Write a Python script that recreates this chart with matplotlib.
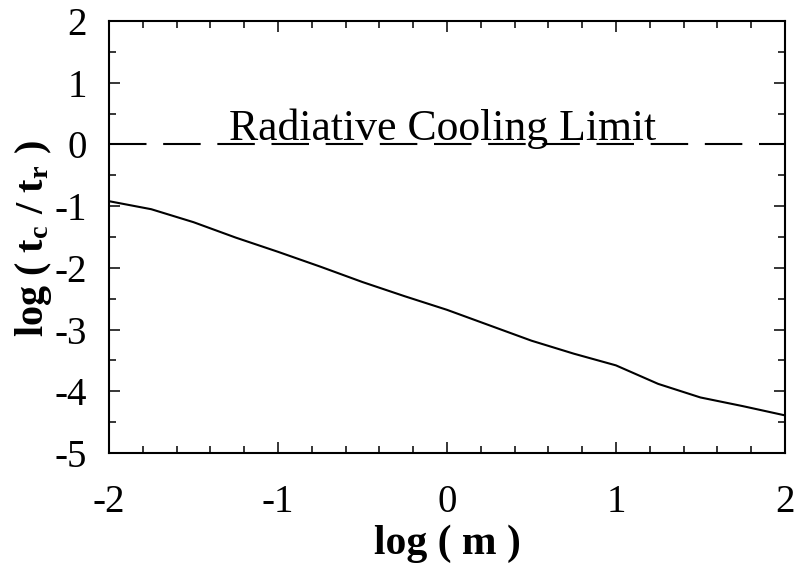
import matplotlib
matplotlib.use("Agg")
import matplotlib.pyplot as plt
from matplotlib.ticker import MultipleLocator

# values
log_m = [-2.0, -1.75, -1.5, -1.25, -1.0, -0.75, -0.5, -0.25, 0.0,
         0.25, 0.5, 0.75, 1.0, 1.25, 1.5, 1.75, 2.0]
log_tc_tr = [-0.92, -1.05, -1.26, -1.51, -1.74, -1.98, -2.23, -2.46, -2.68,
             -2.93, -3.18, -3.39, -3.58, -3.88, -4.10, -4.24, -4.39]
limit_level = 0.0
limit_label = "Radiative Cooling Limit"

plt.rcParams["font.family"] = ["Liberation Serif", "DejaVu Serif"]
plt.rcParams["mathtext.fontset"] = "stix"
plt.rcParams["axes.unicode_minus"] = False

fig = plt.figure(figsize=(7.97, 5.64), dpi=100)
ax = fig.add_axes([0.1368, 0.1968, 0.848, 0.766])

ax.plot(log_m, log_tc_tr, color="black", linewidth=1.5)
ax.axhline(limit_level, color="black", linewidth=1.5, dashes=(18, 8))
ax.text(-0.027, limit_level + 0.07, limit_label, ha="center", va="baseline",
        fontsize=31.5)

ax.set_xlim(-2, 2)
ax.set_ylim(-5, 2)
ax.xaxis.set_major_locator(MultipleLocator(1))
ax.xaxis.set_minor_locator(MultipleLocator(0.2))
ax.yaxis.set_major_locator(MultipleLocator(1))
ax.yaxis.set_minor_locator(MultipleLocator(0.5))
ax.tick_params(which="both", direction="in", top=True, right=True,
               width=1.1, labelsize=28)
ax.tick_params(which="major", length=8)
ax.tick_params(which="minor", length=5)
ax.tick_params(axis="x", which="major", pad=22)
ax.tick_params(axis="y", which="major", pad=16)
for s in ax.spines.values():
    s.set_linewidth(1.5)

ax.set_xlabel("log ( m )", fontsize=30, fontweight="bold")
ax.set_ylabel(r"log ( t$_\mathregular{c}$ / t$_\mathregular{r}$ )",
              fontsize=29, fontweight="bold")
ax.xaxis.set_label_coords(0.5, -0.165)
ax.yaxis.set_label_coords(-0.081, 0.495)

fig.savefig("out.png", dpi=100)
